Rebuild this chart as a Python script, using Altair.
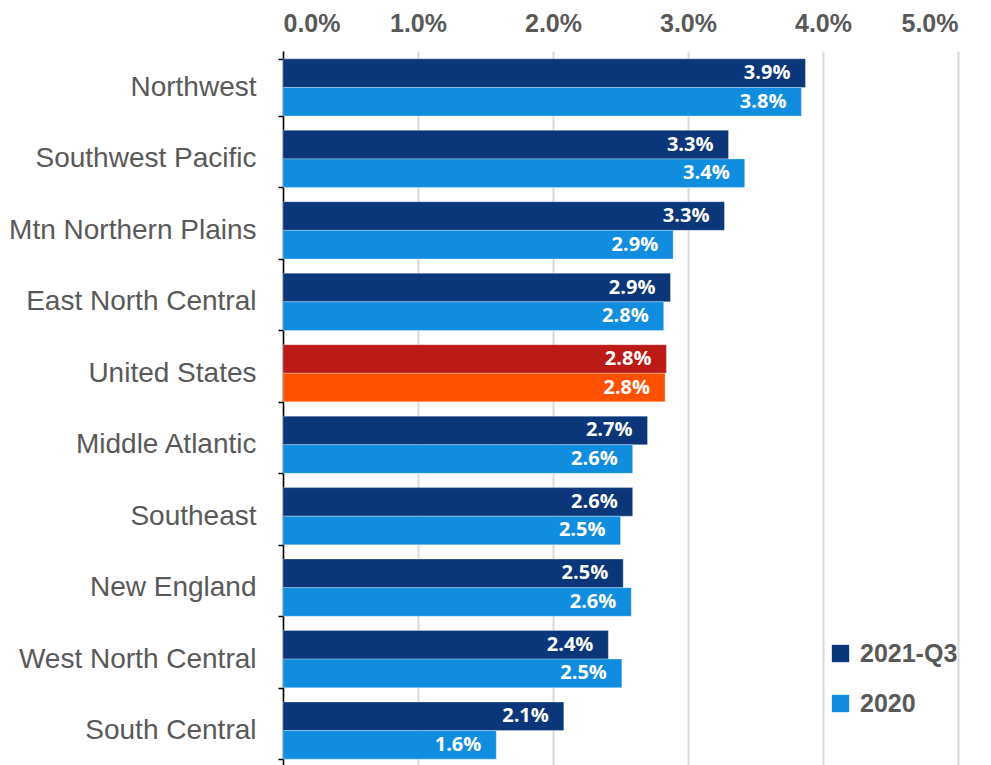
import altair as alt
import pandas as pd

regions = ["Northwest", "Southwest Pacific", "Mtn Northern Plains", "East North Central",
           "United States", "Middle Atlantic", "Southeast", "New England",
           "West North Central", "South Central"]
q3_2021 = [0.0387, 0.0330, 0.0327, 0.0287, 0.0284, 0.0270, 0.0259, 0.0252, 0.0241, 0.0208]
y2020 = [0.0384, 0.0342, 0.0289, 0.0282, 0.0283, 0.0259, 0.0250, 0.0258, 0.0251, 0.0158]
series = ["2021-Q3", "2020"]
x_ticks = [0.0, 0.01, 0.02, 0.03, 0.04, 0.05]

rows = []
for r, a, b in zip(regions, q3_2021, y2020):
    for s, v in zip(series, [a, b]):
        key = ("US " + s) if r == "United States" else s
        rows.append({"region": r, "series": s, "value": v, "ckey": key})
df = pd.DataFrame(rows)

GRAY = "#595959"
color_scale = alt.Scale(domain=["2021-Q3", "2020", "US 2021-Q3", "US 2020"],
                        range=["#0b3679", "#118de0", "#bb1a17", "#ff5100"])

y_enc = alt.Y("region:N", sort=regions, title=None,
              scale=alt.Scale(paddingInner=0.2, paddingOuter=0.11),
              axis=alt.Axis(labelFont="Liberation Sans", labelFontSize=28, labelColor=GRAY,
                            labelPadding=22, tickBand="extent", tickSize=5, tickColor="#000000",
                            domainColor="#000000", domainWidth=1.5, tickWidth=1.5, grid=False,
                            labelLimit=400))
x_enc = alt.X("value:Q", title=None,
              scale=alt.Scale(domain=[0, 0.05], nice=False),
              axis=alt.Axis(orient="top", values=x_ticks, format=".1%",
                            labelFont="Liberation Sans",
                            labelFontWeight="bold", labelFontSize=25, labelColor=GRAY,
                            labelPadding=15, domain=False, ticks=False,
                            grid=True, gridColor="#d9d9d9", gridWidth=2))
yoff = alt.YOffset("series:N", sort=series)

bars = alt.Chart(df).mark_bar(stroke="#ffffff", strokeWidth=0.6, strokeOpacity=0.5).encode(
    y=y_enc, x=x_enc, yOffset=yoff,
    color=alt.Color("ckey:N", scale=color_scale, title=None,
                    legend=alt.Legend(values=["2021-Q3", "2020"], orient="none",
                                      legendX=545, legendY=590, symbolType="square",
                                      symbolSize=300, symbolStrokeWidth=0,
                                      labelFont="Liberation Sans", labelFontWeight="bold",
                                      labelFontSize=25, labelColor=GRAY, labelOffset=7,
                                      rowPadding=24))
)

text = alt.Chart(df).mark_text(align="right", baseline="middle", dx=-15, color="#ffffff",
                               font="Open Sans", fontWeight="bold", fontSize=20).encode(
    y=alt.Y("region:N", sort=regions), x="value:Q", yOffset=yoff,
    text=alt.Text("value:Q", format=".1%")
)

chart = (bars + text).properties(
    width=675, height=716,
    padding={"top": 3, "left": 0, "right": 5, "bottom": 5}
).configure_view(stroke=None)

chart.save("out.html", embed_options={"renderer": "svg", "actions": False})
